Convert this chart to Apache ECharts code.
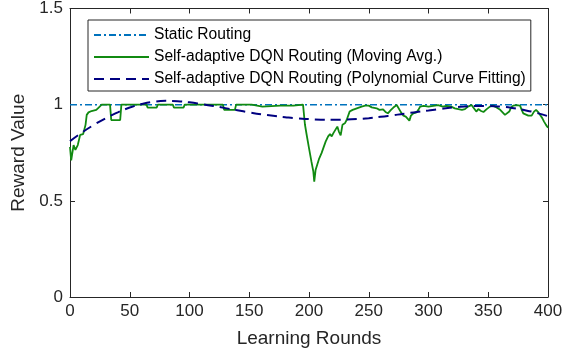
<!DOCTYPE html>
<html>
<head>
<meta charset="utf-8">
<script src="https://cdn.jsdelivr.net/npm/echarts@6/dist/echarts.min.js"></script>
<style>
  html, body { margin: 0; padding: 0; background: #fff; }
  #chart { width: 580px; height: 354px; }
</style>
</head>
<body>
<div id="chart"></div>
<script>
// legend names
const seriesNames = [
  'Static Routing',
  'Self-adaptive DQN Routing (Moving Avg.)',
  'Self-adaptive DQN Routing (Polynomial Curve Fitting)'
];

// static routing baseline
const staticRounds = [0, 400];
const staticReward = [1, 1];

// moving average
const maRounds = [
  0, 1, 3, 4.5, 6.5, 8.5, 11, 13, 14, 15.5, 18, 22, 24, 26.5, 33.5, 34.5, 42, 43,
  64, 65, 72.5, 73.5, 86, 87, 95, 96, 128, 129, 138, 139, 152, 153, 161, 162,
  176, 187, 188, 195, 196.6, 198, 200, 202, 203.6, 204.4, 205.5, 206.5, 208.5,
  210.5, 212.5, 214, 216, 217.6, 219, 220.4, 221.8, 223.7, 225, 226.5, 228, 230,
  231.5, 233, 234, 236.5, 240, 244, 247, 250, 252.5, 256.6, 259, 262, 264, 266,
  268.6, 270.6, 273.4, 275, 277, 279, 281, 282.5, 284, 285.3, 287.3, 290, 291.5,
  293, 296, 300, 304, 308, 312, 315, 319, 322, 325, 328, 330.5, 333, 336, 338,
  340, 341.7, 344, 346, 348.7, 351.4, 354, 357, 360, 362, 364, 365.4, 367.6, 369,
  371, 373.7, 376.6, 378, 379.3, 380.8, 383.5, 386.3, 388.3, 390, 392, 393.3,
  395.2, 396.7, 398.3, 400
];
const maReward = [
  0.78, 0.71, 0.79, 0.765, 0.79, 0.843, 0.847, 0.895, 0.947, 0.96, 0.967, 0.973, 0.985, 1.0, 1.0, 0.92, 0.92, 1.0,
  1.0, 0.985, 0.985, 1.0, 1.0, 0.985, 0.985, 1.0, 1.0, 0.973, 0.973, 1.0, 1.0, 0.99, 0.99, 1.0,
  0.995, 0.995, 1.0, 1.0, 0.897, 0.845, 0.774, 0.705, 0.654, 0.6, 0.66, 0.655, 0.72,
  0.748, 0.783, 0.809, 0.835, 0.847, 0.835, 0.852, 0.843, 0.886, 0.86, 0.84, 0.895, 0.903,
  0.92, 0.93, 0.964, 0.973, 0.981, 0.99, 0.995, 0.995, 0.986, 0.981, 0.973, 0.975, 0.962, 0.955,
  0.973, 0.985, 0.998, 0.99, 0.96, 0.943, 0.938, 0.93, 0.917, 0.943, 0.955, 0.96, 0.973,
  0.99, 0.994, 0.99, 0.994, 0.998, 0.99, 0.994, 0.99, 0.981, 0.977, 0.973, 0.977, 0.99, 0.998, 0.981,
  0.964, 0.977, 0.967, 0.962, 0.977, 0.99, 0.995, 0.985, 0.973, 0.96, 0.947, 0.938, 0.964, 0.985,
  0.995, 0.998, 0.995, 0.973, 0.955, 0.947, 0.943, 0.943, 0.964, 0.973, 0.96, 0.947,
  0.93, 0.912, 0.895, 0.88
];

// polynomial fit
const fitRounds = [
  0, 10, 20, 30, 40, 50, 60, 70, 80, 90, 100, 110, 120, 130, 140, 150, 160, 170, 180, 190, 200,
  210, 220, 230, 240, 250, 260, 270, 280, 290, 300, 310, 320, 330, 340, 350, 360, 370, 380, 390, 400
];
const fitReward = [
  0.81, 0.855, 0.895, 0.93, 0.96, 0.985, 1.003, 1.015, 1.02, 1.018, 1.012, 1.003, 0.993, 0.982, 0.971,
  0.96, 0.95, 0.942, 0.935, 0.929, 0.925, 0.922, 0.921, 0.922, 0.925, 0.93, 0.937, 0.945, 0.953, 0.962,
  0.97, 0.978, 0.985, 0.99, 0.993, 0.993, 0.99, 0.983, 0.972, 0.958, 0.94
];

const zip = (xs, ys) => xs.map((x, i) => [x, ys[i]]);

const axisColor = '#262626';
const fontFamily = 'Liberation Sans, Arial, sans-serif';

const baseAxis = {
  type: 'value',
  axisLine: { show: true, onZero: false, lineStyle: { color: axisColor, width: 1 } },
  axisTick: { show: true, inside: true, length: 5, lineStyle: { color: axisColor } },
  splitLine: { show: false }
};

const chart = echarts.init(document.getElementById('chart'));

const option = {
  animation: false,
  backgroundColor: '#fff',
  textStyle: { fontFamily },
  grid: { left: 70, right: 32, top: 7, bottom: 57 },
  legend: {
    orient: 'vertical',
    left: 88,
    top: 20,
    padding: [7, 5, 4, 5],
    itemGap: 6,
    itemWidth: 55,
    itemHeight: 14,
    borderColor: axisColor,
    borderWidth: 1,
    borderRadius: 0,
    backgroundColor: '#fff',
    // hide the circle marker ECharts adds to line legend icons
    itemStyle: { opacity: 0 },
    textStyle: { color: '#000', fontSize: 15.6, lineHeight: 16, fontFamily },
    data: seriesNames
  },
  xAxis: [
    {
      ...baseAxis,
      min: 0,
      max: 400,
      interval: 50,
      name: 'Learning Rounds',
      nameLocation: 'middle',
      nameGap: 32,
      nameTextStyle: { color: axisColor, fontSize: 19, fontFamily },
      axisLabel: { color: axisColor, fontSize: 17, margin: 6, fontFamily }
    },
    {
      ...baseAxis,
      position: 'top',
      min: 0,
      max: 400,
      interval: 50,
      axisLabel: { show: false }
    }
  ],
  yAxis: [
    {
      ...baseAxis,
      min: 0,
      max: 1.5,
      interval: 0.5,
      name: 'Reward Value',
      nameLocation: 'middle',
      nameGap: 33,
      nameTextStyle: { color: axisColor, fontSize: 19, fontFamily },
      axisLabel: { color: axisColor, fontSize: 17, margin: 7, fontFamily }
    },
    {
      ...baseAxis,
      position: 'right',
      min: 0,
      max: 1.5,
      interval: 0.5,
      axisLabel: { show: false }
    }
  ],
  series: [
    {
      name: seriesNames[0],
      type: 'line',
      symbol: 'none',
      data: zip(staticRounds, staticReward),
      lineStyle: { color: '#0072BD', width: 1.5, type: [7, 3, 2, 3] },
      itemStyle: { color: '#0072BD' },
      z: 2
    },
    {
      name: seriesNames[1],
      type: 'line',
      symbol: 'none',
      data: zip(maRounds, maReward),
      lineStyle: { color: '#118a11', width: 1.8 },
      itemStyle: { color: '#118a11' },
      z: 3
    },
    {
      name: seriesNames[2],
      type: 'line',
      symbol: 'none',
      smooth: true,
      data: zip(fitRounds, fitReward),
      lineStyle: { color: '#000080', width: 2, type: [10, 6] },
      itemStyle: { color: '#000080' },
      z: 4
    }
  ]
};

chart.setOption(option);
</script>
</body>
</html>
